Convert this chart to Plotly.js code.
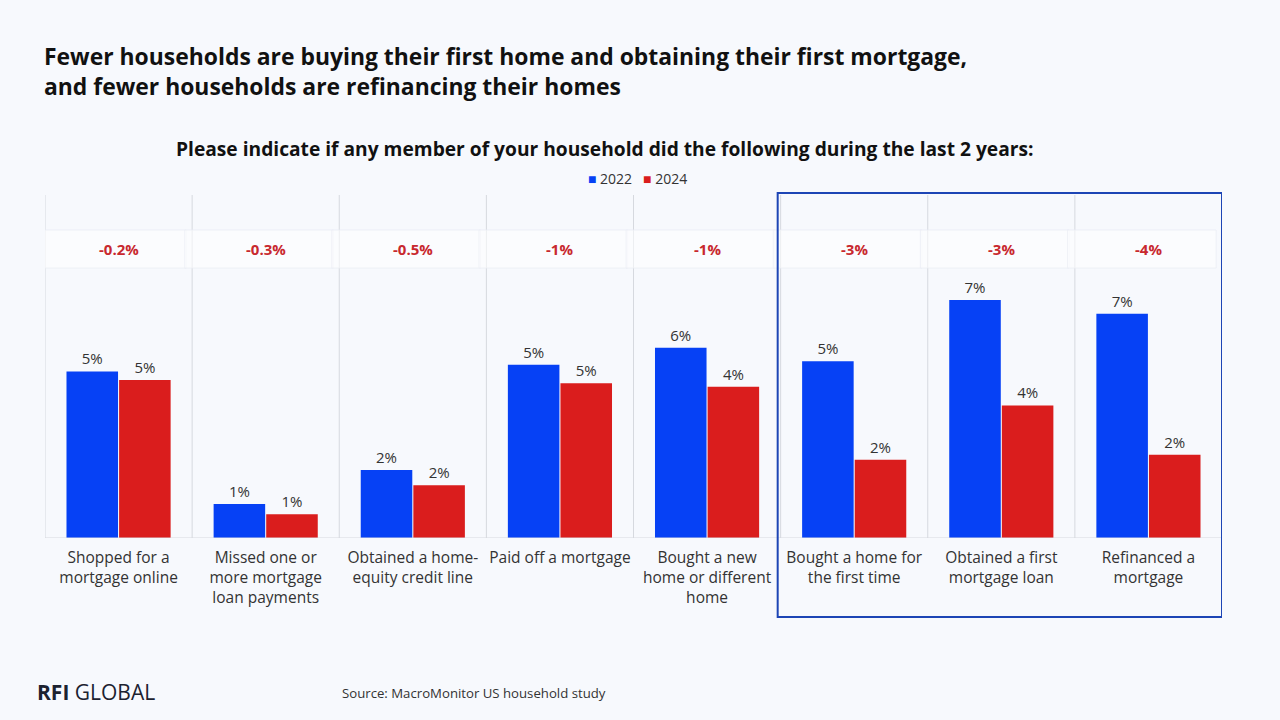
<!DOCTYPE html>
<html>
<head>
<meta charset="utf-8">
<script src="https://cdn.plot.ly/plotly-3.0.1.min.js"></script>
<style>
  html, body { margin: 0; padding: 0; background: #f7f9fd; }
  #chart { width: 1280px; height: 720px; }
</style>
</head>
<body>
<div id="chart"></div>
<script>
// Survey activities and share of households (%) in each wave
const categories = [
  "Shopped for a mortgage online",
  "Missed one or more mortgage loan payments",
  "Obtained a home-equity credit line",
  "Paid off a mortgage",
  "Bought a new home or different home",
  "Bought a home for the first time",
  "Obtained a first mortgage loan",
  "Refinanced a mortgage"
];
const tickLabels = [
  "Shopped for a<br>mortgage online",
  "Missed one or<br>more mortgage<br>loan payments",
  "Obtained a home-<br>equity credit line",
  "Paid off a mortgage",
  "Bought a new<br>home or different<br>home",
  "Bought a home for<br>the first time",
  "Obtained a first<br>mortgage loan",
  "Refinanced a<br>mortgage"
];
const values2022 = [4.9, 1.0, 2.0, 5.1, 5.6, 5.2, 7.0, 6.6];
const values2024 = [4.65, 0.7, 1.55, 4.55, 4.45, 2.3, 3.9, 2.45];
const changeLabels = ["-0.2%", "-0.3%", "-0.5%", "-1%", "-1%", "-3%", "-3%", "-4%"];
const highlighted = [5, 6, 7];   // categories framed as the key declines

const BLUE = "#0641f5";
const RED = "#da1d1d";
const FONT = "'Open Sans', Lato, sans-serif";
const idx = categories.map((_, i) => i);

const barTrace = (name, vals, color) => ({
  type: "bar",
  name: name,
  x: idx,
  y: vals,
  marker: { color: color },
  text: vals.map(v => v.toFixed(0) + "%"),
  textposition: "outside",
  textfont: { family: FONT, size: 15, color: "#333333" },
  cliponaxis: false,
  hoverinfo: "skip"
});

const shapes = [];
// column dividers
for (let i = 0; i < categories.length; i++) {
  shapes.push({
    type: "line", xref: "x", yref: "paper",
    x0: i - 0.5, x1: i - 0.5, y0: 0, y1: 1,
    line: { color: "#d6d9df", width: 1 }, layer: "below"
  });
}
// faint cells behind the change labels
for (let i = 0; i < categories.length; i++) {
  shapes.push({
    type: "rect", xref: "x", yref: "paper",
    x0: i - 0.55, x1: i + 0.46, y0: 0.787, y1: 0.898,
    fillcolor: "rgba(255,255,255,0.55)",
    line: { color: "rgba(235,238,245,0.8)", width: 1 }, layer: "below"
  });
}
// baseline
shapes.push({
  type: "line", xref: "paper", yref: "y",
  x0: 0, x1: 1, y0: 0, y1: 0,
  line: { color: "#d6d9df", width: 1 }
});
// frame around the highlighted categories
shapes.push({
  type: "rect", xref: "x", yref: "paper",
  x0: highlighted[0] - 0.52, x1: highlighted[highlighted.length - 1] + 0.5,
  y0: -0.23, y1: 1.006,
  line: { color: "#1d45b5", width: 2 }, fillcolor: "rgba(0,0,0,0)"
});

const annotations = changeLabels.map((t, i) => ({
  x: i, y: 0.843, xref: "x", yref: "paper", yanchor: "middle",
  text: "<b>" + t + "</b>", showarrow: false,
  font: { family: FONT, size: 15, color: "#c8282e" }
}));

annotations.push(
  {
    xref: "paper", yref: "paper", x: 0.476, y: 1.137, yanchor: "middle",
    text: "<b>Please indicate if any member of your household did the following during the last 2 years:</b>",
    showarrow: false, font: { family: FONT, size: 19.2, color: "#111111" }
  },
  {
    xref: "paper", yref: "paper", x: 0.503, y: 1.047, yanchor: "middle",
    text: "<span style='color:" + BLUE + "'>■</span> 2022   <span style='color:" + RED + "'>■</span> 2024",
    showarrow: false, font: { family: FONT, size: 14, color: "#333333" }
  },
  {
    xref: "paper", yref: "paper", x: -0.0085, y: -0.449,
    xanchor: "left", yanchor: "middle",
    text: "<b>RFI</b> GLOBAL", showarrow: false,
    font: { family: FONT, size: 21, color: "#1c2230" }
  },
  {
    xref: "paper", yref: "paper", x: 0.2506, y: -0.452,
    xanchor: "left", yanchor: "middle",
    text: "Source: MacroMonitor US household study", showarrow: false,
    font: { family: FONT, size: 13.2, color: "#333333" }
  }
);

const layout = {
  width: 1280, height: 720,
  paper_bgcolor: "#f7f9fd",
  plot_bgcolor: "rgba(0,0,0,0)",
  margin: { l: 45, r: 58, t: 195, b: 182 },
  title: {
    text: "<b>Fewer households are buying their first home and obtaining their first mortgage,<br>and fewer households are refinancing their homes</b>",
    x: 44 / 1280, xanchor: "left", xref: "container",
    y: 1 - 65 / 720, yanchor: "top", yref: "container",
    font: { family: FONT, size: 22.9, color: "#111111" }
  },
  showlegend: false,
  barmode: "group",
  bargap: 0.285,
  bargroupgap: 0.02,
  xaxis: {
    tickvals: idx, ticktext: tickLabels,
    range: [-0.5, categories.length - 0.5],
    showgrid: false, zeroline: false, showline: false,
    ticks: "", ticklabelstandoff: 8,
    tickfont: { family: FONT, size: 15.5, color: "#333333" }
  },
  yaxis: {
    range: [0, 10.09],
    showgrid: false, zeroline: false, showline: false,
    showticklabels: false, ticks: ""
  },
  shapes: shapes,
  annotations: annotations
};

Plotly.newPlot("chart", [
  barTrace("2022", values2022, BLUE),
  barTrace("2024", values2024, RED)
], layout, { displayModeBar: false, staticPlot: true });
</script>
</body>
</html>
